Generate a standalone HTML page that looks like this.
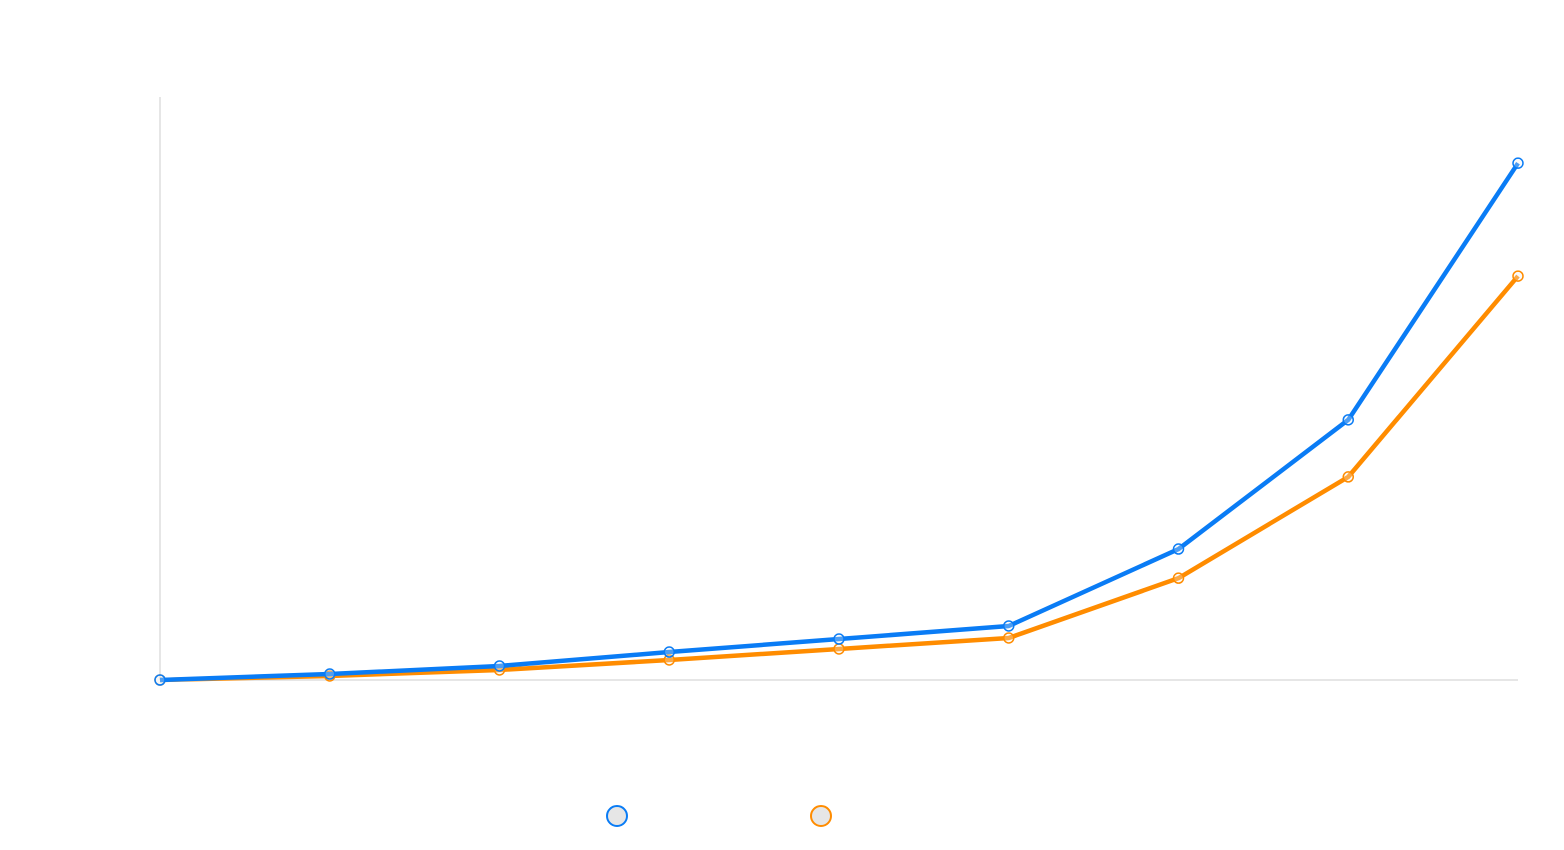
<!DOCTYPE html>
<html><head><meta charset="utf-8"><style>
html,body{margin:0;padding:0;background:#fff;width:1564px;height:850px;overflow:hidden;font-family:"Liberation Sans",sans-serif}
</style></head><body>
<svg id="chart" width="1564" height="850" xmlns="http://www.w3.org/2000/svg">
<line x1="160" y1="97" x2="160" y2="680" stroke="#dddddd" stroke-width="1.5"/>
<line x1="160" y1="680" x2="1518" y2="680" stroke="#dddddd" stroke-width="1.5"/>
<g id="series"></g>
<g>
<circle cx="617" cy="816" r="10" fill="#e6e6e6" stroke="#0a7cf5" stroke-width="2"/>
<circle cx="821" cy="816" r="10" fill="#e6e6e6" stroke="#ff8c00" stroke-width="2"/>
</g>
</svg>
<script>
const categories = [1,2,3,4,5,6,7,8,9];
const seriesBlue = [0, 1.03, 2.41, 4.81, 7.04, 9.28, 22.5, 44.7, 88.8];
const seriesOrange = [0, 0.69, 1.72, 3.44, 5.33, 7.22, 17.5, 34.9, 69.4];
const yMax = 100;
const X0=160,X1=1518,Y0=680,Y1=98;
function xs(i){return X0+(X1-X0)*i/(categories.length-1);}
function ys(v){return Y0-(Y0-Y1)*v/yMax;}
const g=document.getElementById('series');
const NS='http://www.w3.org/2000/svg';
function draw(vals,color,name){
  const p=document.createElementNS(NS,'polyline');
  p.setAttribute('points',vals.map((v,i)=>xs(i)+','+ys(v)).join(' '));
  p.setAttribute('fill','none');p.setAttribute('stroke',color);p.setAttribute('stroke-width','4.5');p.setAttribute('stroke-linejoin','round');
  
  
  g.appendChild(p);
  vals.forEach((v,i)=>{
    const c=document.createElementNS(NS,'circle');
    c.setAttribute('cx',xs(i));c.setAttribute('cy',ys(v));c.setAttribute('r','5');
    c.setAttribute('fill','rgba(240,240,240,0.3)');c.setAttribute('stroke',color);c.setAttribute('stroke-width','1.5');
    
    
    g.appendChild(c);
  });
}
draw(seriesOrange,'#ff8c00','orange-series');
draw(seriesBlue,'#0a7cf5','blue-series');
</script>
</body></html>
